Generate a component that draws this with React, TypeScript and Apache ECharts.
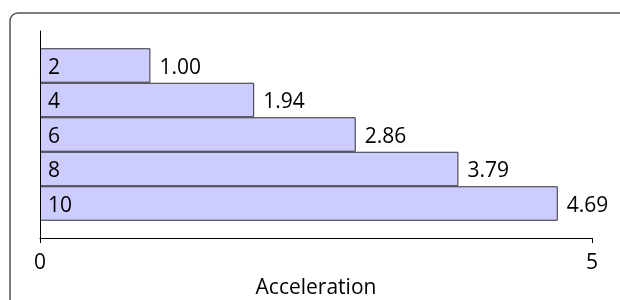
import React, { useEffect, useRef } from "react";
import * as echarts from "echarts";

const categories: string[] = ["2", "4", "6", "8", "10"];
const values: number[] = [1.0, 1.94, 2.86, 3.79, 4.69];
const xTicks: number[] = [0, 5];
const xTitle = "Acceleration";

const FONT = "Open Sans";
const FS = 21;

export default function App() {
  const ref = useRef<HTMLDivElement>(null);
  useEffect(() => {
    if (!ref.current) return;
    const chart = echarts.init(ref.current, null, { renderer: "svg" });
    const yData = ["", ...categories, ""];
    const sData = [null, ...values, null];
    chart.setOption({
      animation: false,
      textStyle: { fontFamily: FONT },
      graphic: [
        {
          type: "rect",
          shape: { x: 10, y: 13, width: 640, height: 320, r: 8 },
          style: { fill: "none", stroke: "#555", lineWidth: 1.5 },
          silent: true,
        },
      ],
      grid: {
        left: 40,
        right: 28,
        top: 31,
        bottom: 62,
        containLabel: false,
        outerBoundsMode: "none",
      },
      xAxis: {
        type: "value",
        min: xTicks[0],
        max: xTicks[xTicks.length - 1],
        interval: xTicks[1] - xTicks[0],
        axisLine: { show: true, lineStyle: { color: "#000", width: 1 } },
        axisTick: { show: true, length: 5, lineStyle: { color: "#000" } },
        axisLabel: { color: "#000", fontSize: FS, fontFamily: FONT, margin: 12 },
        splitLine: { show: false },
        name: xTitle,
        nameLocation: "middle",
        nameGap: 36,
        nameTextStyle: { color: "#000", fontSize: FS, fontFamily: FONT, lineHeight: 21 },
      },
      yAxis: {
        type: "category",
        data: yData,
        inverse: true,
        boundaryGap: false,
        z: 10,
        axisLine: { show: true, lineStyle: { color: "#000", width: 1 } },
        axisTick: { show: false },
        axisLabel: {
          inside: true,
          margin: 8,
          color: "#000",
          fontSize: FS,
          fontFamily: FONT,
          interval: 0,
        },
        splitLine: { show: false },
      },
      series: [
        {
          type: "bar",
          data: sData,
          barWidth: "100%",
          barCategoryGap: "0%",
          itemStyle: { color: "#ccccff", borderColor: "#333", borderWidth: 1 },
          label: {
            show: true,
            position: "right",
            distance: 9,
            color: "#000",
            fontSize: FS,
            fontFamily: FONT,
            formatter: (p: any) => Number(p.value).toFixed(2),
          },
          z: 1,
        },
      ],
    });
    return () => chart.dispose();
  }, []);
  return (
    <div
      ref={ref}
      style={{ position: "fixed", left: 0, top: 0, width: 620, height: 300 }}
    />
  );
}
